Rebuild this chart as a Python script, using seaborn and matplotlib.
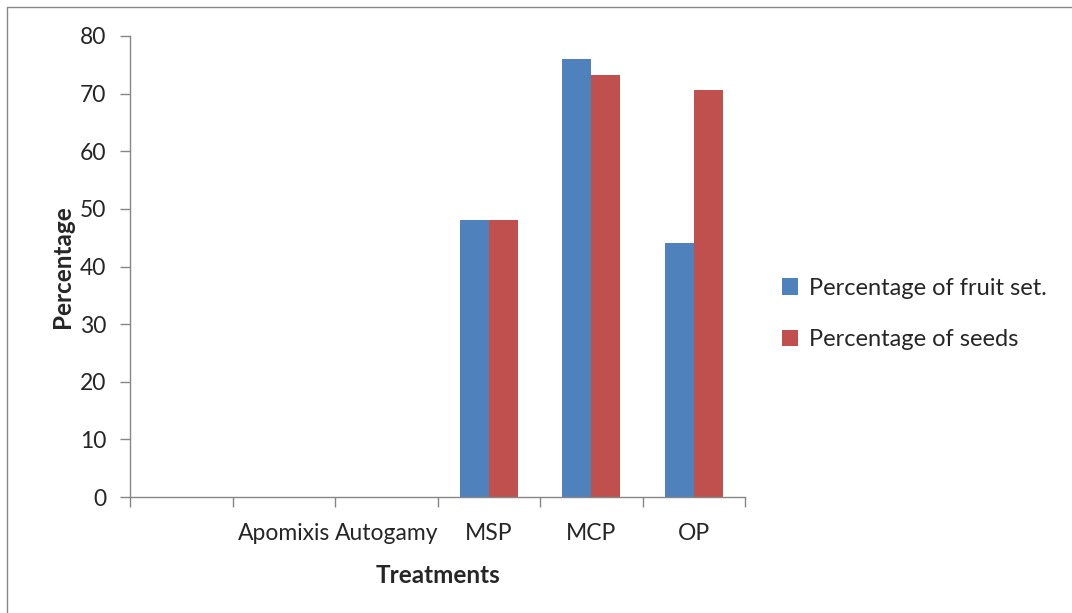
import matplotlib
matplotlib.use("Agg")
import matplotlib.pyplot as plt
import seaborn as sns
import pandas as pd
from matplotlib.lines import Line2D
from matplotlib.patches import Patch

categories = ["", "Apomixis", "Autogamy", "MSP", "MCP", "OP"]
fruit_set = [0, 0, 0, 48, 76, 44]
seeds = [0, 0, 0, 48, 73.3, 70.6]
series_names = ["Percentage of fruit set.", "Percentage of seeds"]
colors = ["#4F81BD", "#C0504D"]

df = pd.DataFrame({
    "Treatment": categories * 2,
    "Value": fruit_set + seeds,
    "Series": [series_names[0]] * len(categories) + [series_names[1]] * len(categories),
})

sns.set_style("white")
plt.rcParams['font.family'] = ['Lato', 'DejaVu Sans']

fig = plt.figure(figsize=(10.72, 6.13), dpi=100)
ax = fig.add_axes([130/1072, 1-497/613, (745-130)/1072, (497-36)/613])

sns.barplot(data=df, x="Treatment", y="Value", hue="Series", order=categories,
            hue_order=series_names, palette=colors, width=0.57, linewidth=0,
            saturation=1, ax=ax, legend=False)

ax.set_ylim(0, 80)
ax.set_xlim(-0.5, len(categories) - 0.5)
ax.set_yticks(range(0, 81, 10))
ax.tick_params(axis='y', labelsize=16.5, length=7, width=1, color='#868686', pad=10, left=True)
ax.set_xticks(range(len(categories)))
ax.set_xticklabels(categories)
ax.tick_params(axis='x', which='major', labelsize=16.5, length=0, pad=19)
ax.set_xticks([i - 0.5 for i in range(len(categories) + 1)], minor=True)
ax.tick_params(axis='x', which='minor', length=7, width=1, color='#868686', bottom=True)

for s in ['top', 'right']:
    ax.spines[s].set_visible(False)
for s in ['left', 'bottom']:
    ax.spines[s].set_color('#868686')
    ax.spines[s].set_linewidth(1)

ax.set_xlabel("Treatments", fontsize=17.5, fontweight='bold', labelpad=14)
ax.set_ylabel("Percentage", fontsize=17.5, fontweight='bold', labelpad=4)

handles = [Patch(facecolor=c, edgecolor='none') for c in colors]
fig.legend(handles, series_names, loc='center left', bbox_to_anchor=(770/1072, 1-314/613),
           frameon=False, fontsize=17, handlelength=0.7, handleheight=0.7,
           handletextpad=0.45, labelspacing=1.3, borderpad=0)

fig.add_artist(Line2D([7/1072, 7/1072], [0, 1-7/613], transform=fig.transFigure, color='#888888', lw=1))
fig.add_artist(Line2D([7/1072, 1], [1-7/613, 1-7/613], transform=fig.transFigure, color='#888888', lw=1))

fig.savefig("out.png", dpi=100)
